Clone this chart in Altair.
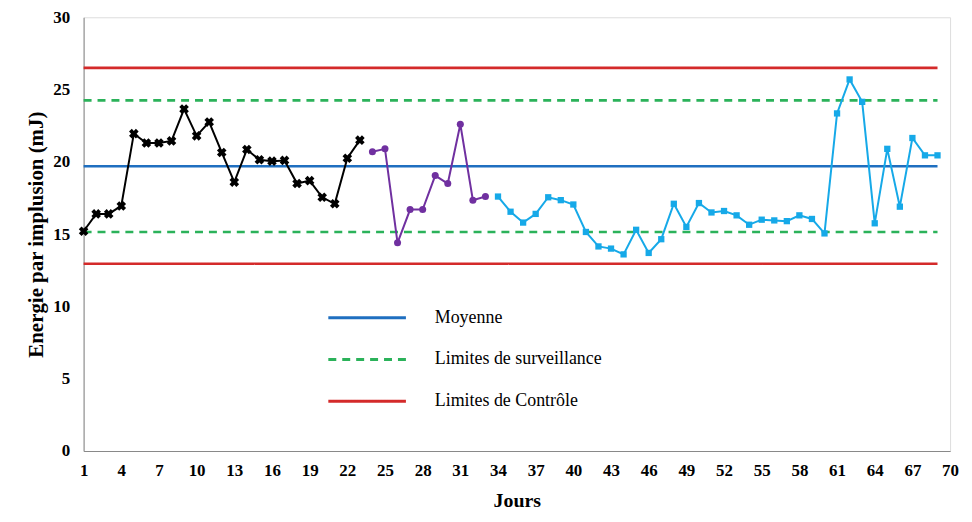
import altair as alt
import pandas as pd

# ---- data ----
days_a = list(range(1, 24))
vals_a = [15.2, 16.4, 16.4, 16.95, 21.95, 21.3, 21.3, 21.45, 23.65, 21.8, 22.75, 20.65,
          18.6, 20.85, 20.15, 20.05, 20.1, 18.5, 18.7, 17.55, 17.1, 20.25, 21.5]
days_b = list(range(24, 34))
vals_b = [20.7, 20.9, 14.4, 16.7, 16.7, 19.05, 18.5, 22.6, 17.35, 17.6]
days_c = list(range(34, 70))
vals_c = [17.6, 16.55, 15.8, 16.4, 17.55, 17.35, 17.05, 15.15, 14.15, 14.0, 13.6, 15.3,
          13.7, 14.65, 17.1, 15.5, 17.15, 16.5, 16.6, 16.3, 15.65, 16.0, 15.95, 15.9,
          16.3, 16.05, 15.05, 23.35, 25.7, 24.15, 15.75, 20.9, 16.9, 21.65, 20.45, 20.45]

limit_kinds = ["Moyenne", "Limites de surveillance", "Limites de surveillance",
               "Limites de Contrôle", "Limites de Contrôle"]
limit_values = [19.7, 24.25, 15.15, 26.5, 12.95]
limit_start = 1
limit_end = 69
kind_order = ["Moyenne", "Limites de surveillance", "Limites de Contrôle"]
kind_colors = ["#1f6fc0", "#2bb25a", "#d42a2a"]

x_ticks = list(range(1, 71, 3))
y_ticks = list(range(0, 31, 5))

FONT = "Liberation Serif"

df_a = pd.DataFrame({"day": days_a, "val": vals_a})
df_b = pd.DataFrame({"day": days_b, "val": vals_b})
df_c = pd.DataFrame({"day": days_c, "val": vals_c})
df_lim = pd.DataFrame({"kind": limit_kinds, "val": limit_values,
                       "start": [limit_start] * 5, "end": [limit_end] * 5})

x_scale = alt.Scale(domain=[1, 70], nice=False, zero=False)
y_scale = alt.Scale(domain=[0, 30], nice=False)

x_axis = alt.Axis(values=x_ticks, title="Jours", grid=False, ticks=False,
                  labelFont=FONT, labelFontSize=17, labelFontWeight="bold", labelColor="black",
                  labelPadding=12, labelFlush=False, labelOverlap=False,
                  titleFont=FONT, titleFontSize=20, titleFontWeight="bold", titleColor="black",
                  titlePadding=12, domainColor="#888888")
y_axis = alt.Axis(values=y_ticks, title="Energie par implusion (mJ)", grid=False, ticks=False,
                  labelFont=FONT, labelFontSize=17, labelFontWeight="bold", labelColor="black",
                  labelPadding=14, labelOverlap=False,
                  titleFont=FONT, titleFontSize=21, titleFontWeight="bold", titleColor="black",
                  titlePadding=6, domainColor="#888888")

limits = alt.Chart(df_lim).mark_rule(strokeWidth=2.6).encode(
    x=alt.X("start:Q", scale=x_scale, axis=x_axis),
    x2="end:Q",
    y=alt.Y("val:Q", scale=y_scale, axis=y_axis),
    color=alt.Color("kind:N", scale=alt.Scale(domain=kind_order, range=kind_colors),
                    legend=alt.Legend(title=None, orient="none", legendX=264, legendY=281,
                                      symbolType="M-2,0H2", symbolSize=1521,
                                      symbolStrokeWidth=3, labelFont=FONT, labelFontSize=18,
                                      labelColor="black", labelOffset=47, rowPadding=12,
                                      labelLimit=400, padding=0)),
    strokeDash=alt.StrokeDash("kind:N", scale=alt.Scale(domain=kind_order,
                              range=[[1, 0], [8, 6], [1, 0]])),
)


def series(df, color, shape, size, angle=0):
    base = alt.Chart(df).encode(x=alt.X("day:Q", scale=x_scale, axis=x_axis),
                                y=alt.Y("val:Q", scale=y_scale, axis=y_axis))
    line = base.mark_line(color=color, strokeWidth=2)
    pts = base.mark_point(color=color, shape=shape, size=size, angle=angle,
                          filled=True, opacity=1)
    return line + pts


chart = alt.layer(
    limits,
    series(df_a, "#000000", "cross", 95, 45),
    series(df_b, "#7030a0", "circle", 50),
    series(df_c, "#16a9e8", "square", 40),
).properties(
    width=871, height=436,
    autosize=alt.AutoSizeParams(type="none"),
    padding={"left": 76, "top": 8, "right": 14, "bottom": 62},
).configure_view(stroke=None).configure_axis(labelOverlap=False).configure(background="white")

chart.save("out.html", embed_options={"renderer": "svg", "actions": False})
